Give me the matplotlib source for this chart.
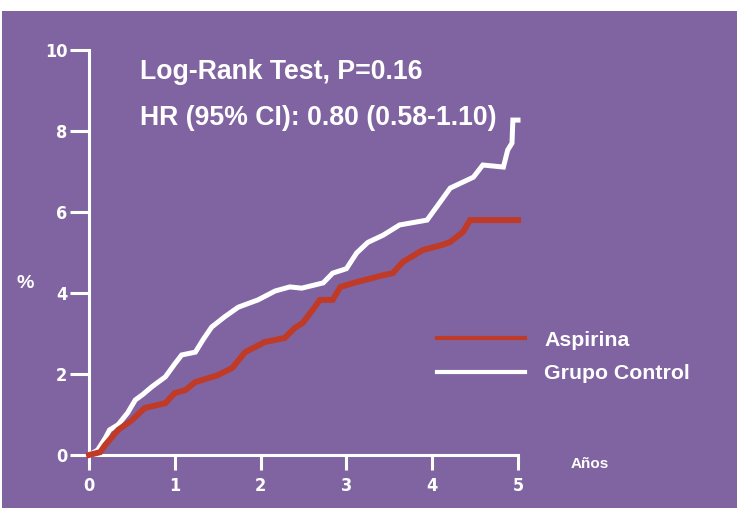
import matplotlib.pyplot as plt
from matplotlib.patches import Rectangle

plt.rcParams['font.family'] = ['Liberation Sans', 'DejaVu Sans']

# Curvas de incidencia acumulada (%)
years_control = [0.0, 0.10, 0.19, 0.24, 0.34, 0.45, 0.54, 0.63, 0.73, 0.89, 1.0, 1.08, 1.24, 1.33,
                 1.43, 1.58, 1.74, 1.97, 2.17, 2.34, 2.48, 2.73, 2.84, 3.0, 3.12, 3.25, 3.43,
                 3.62, 3.94, 4.06, 4.21, 4.48, 4.59, 4.83, 4.88, 4.93, 4.94, 5.0]
pct_control = [0.0, 0.12, 0.42, 0.62, 0.75, 1.04, 1.36, 1.50, 1.68, 1.93, 2.25, 2.47, 2.54, 2.85,
               3.16, 3.41, 3.65, 3.83, 4.05, 4.15, 4.12, 4.25, 4.49, 4.60, 4.99, 5.25, 5.43,
               5.68, 5.80, 6.15, 6.59, 6.86, 7.16, 7.11, 7.53, 7.70, 8.27, 8.27]

years_asp = [0.0, 0.13, 0.19, 0.34, 0.50, 0.65, 0.89, 1.0, 1.12, 1.24, 1.5, 1.67, 1.82, 2.05,
             2.28, 2.40, 2.49, 2.63, 2.69, 2.84, 2.93, 3.12, 3.43, 3.54, 3.66, 3.89, 4.12,
             4.21, 4.36, 4.44, 5.0]
pct_asp = [0.0, 0.07, 0.25, 0.62, 0.86, 1.16, 1.28, 1.53, 1.60, 1.80, 1.97, 2.15, 2.54, 2.79,
           2.89, 3.14, 3.26, 3.65, 3.83, 3.83, 4.15, 4.27, 4.44, 4.49, 4.77, 5.06, 5.19,
           5.26, 5.51, 5.80, 5.80]

labels = ['Aspirina', 'Grupo Control']
xticks = [0, 1, 2, 3, 4, 5]
yticks = [0, 2, 4, 6, 8, 10]

purple = '#8064A2'
red = '#BF3B28'

fig = plt.figure(figsize=(7.37, 5.08), dpi=100, facecolor='white')
# fondo morado de la diapositiva
fig.patches.append(Rectangle((2 / 737, 0), 1, 497 / 508, transform=fig.transFigure,
                             facecolor=purple, edgecolor='none', zorder=-10))

ax = fig.add_axes([89 / 737, 53 / 508, 429 / 737, 405 / 508])
ax.set_facecolor('none')

ax.plot(years_asp, pct_asp, color=red, lw=4.3, solid_joinstyle='miter',
        clip_on=False, zorder=3, label=labels[0])
ax.plot(years_control, pct_control, color='white', lw=3.6, solid_joinstyle='miter',
        clip_on=False, zorder=2, label=labels[1])

ax.set_xlim(0, 5)
ax.set_ylim(0, 10)
for s in ['top', 'right']:
    ax.spines[s].set_visible(False)
for s in ['left', 'bottom']:
    ax.spines[s].set_color('white')
    ax.spines[s].set_linewidth(2.2)

tick_font = dict(family='DejaVu Sans', stretch='condensed', weight='bold', size=13)
ax.set_xticks(xticks)
ax.set_yticks(yticks)
ax.set_xticklabels([str(t) for t in xticks], color='white', **tick_font)
ax.set_yticklabels([str(t) for t in yticks], color='white', **tick_font)
ax.tick_params(axis='y', length=13.5, width=2.2, color='white', pad=2)
ax.tick_params(axis='x', length=11, width=2.2, color='white', pad=5)

ax.text(140 / 737, 1 - 72 / 508, 'Log-Rank Test, P=0.16', transform=fig.transFigure,
        color='white', fontsize=19.2, weight='bold', va='center', ha='left')
ax.text(140 / 737, 1 - 118 / 508, 'HR (95% CI): 0.80 (0.58-1.10)', transform=fig.transFigure,
        color='white', fontsize=19.2, weight='bold', va='center', ha='left')

ax.text(25 / 737, 1 - 283 / 508, '%', transform=fig.transFigure,
        color='white', fontsize=14, weight='bold', va='center', ha='center')
ax.text(590 / 737, 1 - 464 / 508, 'Años', transform=fig.transFigure,
        color='white', fontsize=11, weight='bold', va='center', ha='center')

leg = ax.legend(loc='center left', bbox_to_anchor=(437 / 737, 1 - 357 / 508),
                bbox_transform=fig.transFigure, frameon=False, borderpad=0,
                borderaxespad=0, handlelength=4.14, handletextpad=0.9,
                labelspacing=0.69, prop=dict(weight='bold', size=15.3))
for t in leg.get_texts():
    t.set_color('white')
for h in leg.get_lines():
    h.set_linewidth(3.0)

plt.savefig('out.png', dpi=100)
